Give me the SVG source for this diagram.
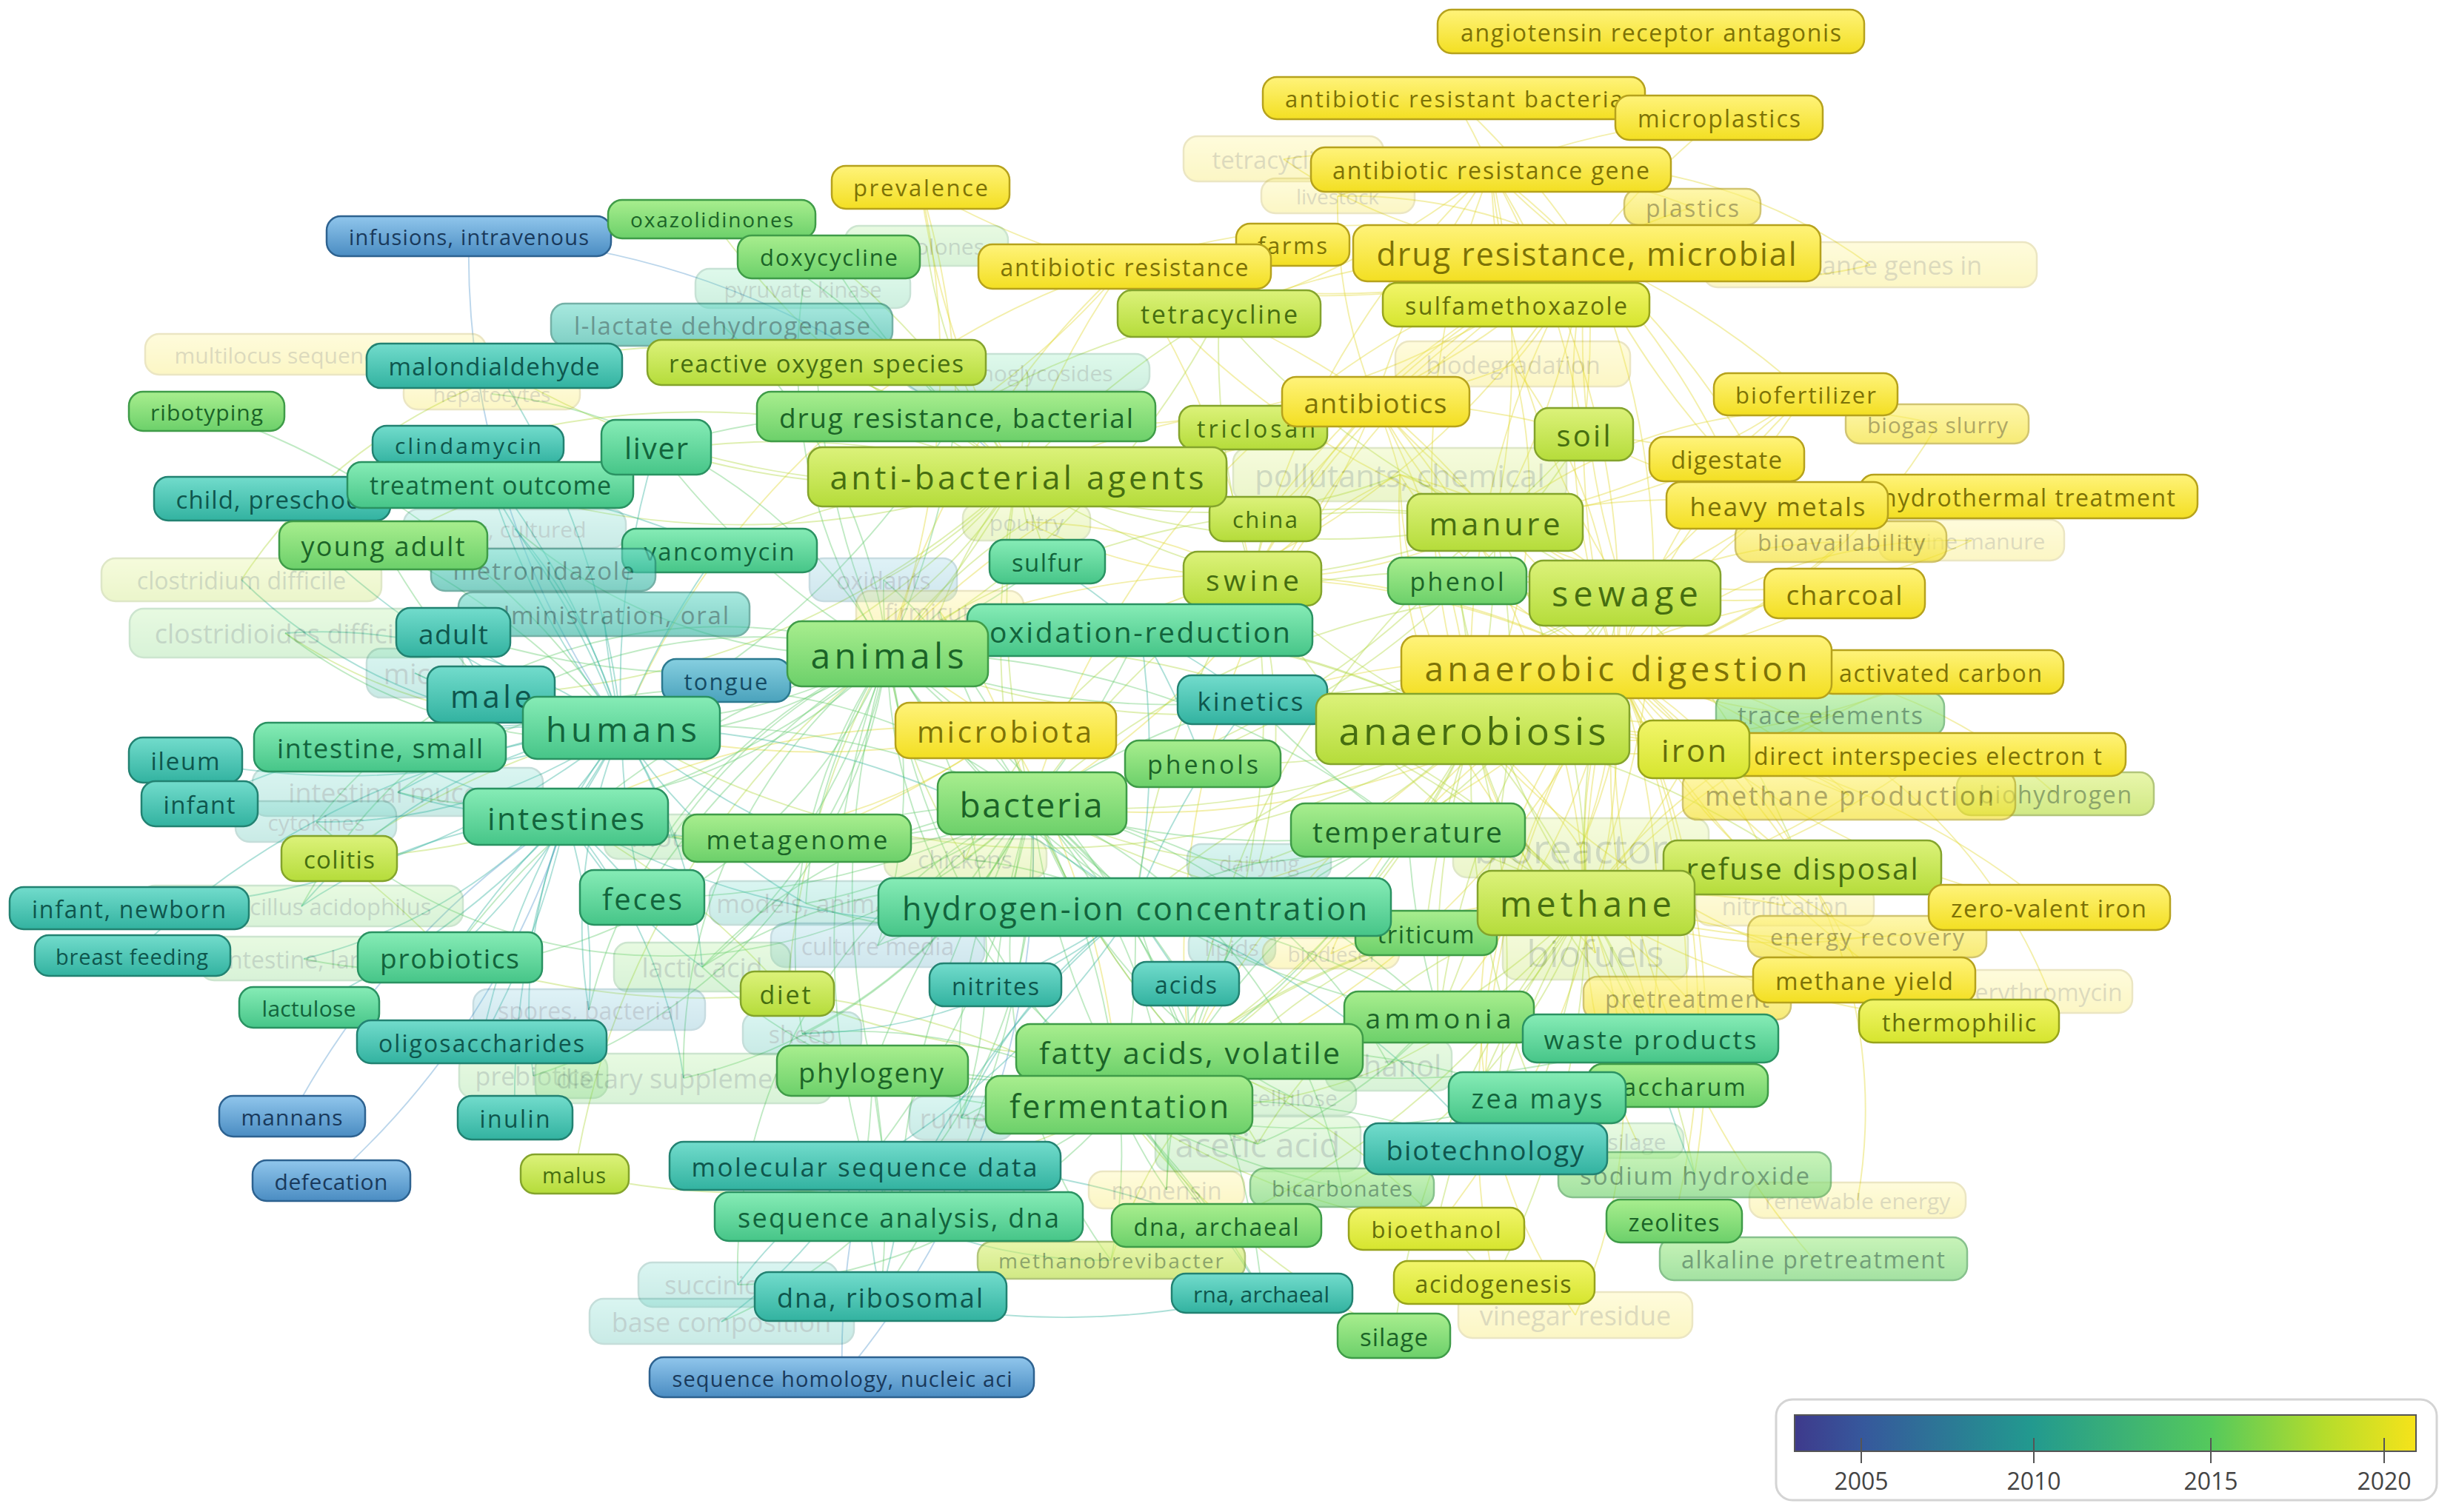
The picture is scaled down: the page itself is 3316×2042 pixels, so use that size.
<svg xmlns="http://www.w3.org/2000/svg" width="3316" height="2042" viewBox="0 0 3316 2042">
<defs>
<linearGradient id="gY" x1="0" y1="0" x2="0" y2="1"><stop offset="0" stop-color="#fff37a"/><stop offset="1" stop-color="#f3df22"/></linearGradient>
<linearGradient id="gYL" x1="0" y1="0" x2="0" y2="1"><stop offset="0" stop-color="#f2f56a"/><stop offset="1" stop-color="#d6e52e"/></linearGradient>
<linearGradient id="gYG" x1="0" y1="0" x2="0" y2="1"><stop offset="0" stop-color="#dcf27a"/><stop offset="1" stop-color="#b5dc3a"/></linearGradient>
<linearGradient id="gG" x1="0" y1="0" x2="0" y2="1"><stop offset="0" stop-color="#a8ee8e"/><stop offset="1" stop-color="#6cd06a"/></linearGradient>
<linearGradient id="gGT" x1="0" y1="0" x2="0" y2="1"><stop offset="0" stop-color="#86ecb6"/><stop offset="1" stop-color="#46c588"/></linearGradient>
<linearGradient id="gT" x1="0" y1="0" x2="0" y2="1"><stop offset="0" stop-color="#72dccc"/><stop offset="1" stop-color="#32b2a0"/></linearGradient>
<linearGradient id="gTB" x1="0" y1="0" x2="0" y2="1"><stop offset="0" stop-color="#86cfe0"/><stop offset="1" stop-color="#4aa2bc"/></linearGradient>
<linearGradient id="gB" x1="0" y1="0" x2="0" y2="1"><stop offset="0" stop-color="#90c6ec"/><stop offset="1" stop-color="#4a8cc2"/></linearGradient>
<linearGradient id="lg" x1="0" y1="0" x2="1" y2="0"><stop offset="0" stop-color="#3e3a8c"/><stop offset="0.11" stop-color="#36589c"/><stop offset="0.38" stop-color="#22998f"/><stop offset="0.67" stop-color="#55c95c"/><stop offset="0.85" stop-color="#b4dc2c"/><stop offset="1" stop-color="#f6e31a"/></linearGradient>
<style>
.nd rect{stroke-width:2.5;rx:19px;ry:19px}
.nd text{font-family:"Open Sans","Noto Sans","Liberation Sans",sans-serif;text-anchor:middle;dominant-baseline:central}
.Y rect{fill:url(#gY);stroke:#b6a21c}.Y text{fill:#7d7206}
.YL rect{fill:url(#gYL);stroke:#98a41c}.YL text{fill:#646e0a}
.YG rect{fill:url(#gYG);stroke:#84a42c}.YG text{fill:#466e10}
.G rect{fill:url(#gG);stroke:#3f9c48}.G text{fill:#1b6427}
.GT rect{fill:url(#gGT);stroke:#2a9262}.GT text{fill:#12643c}
.T rect{fill:url(#gT);stroke:#228272}.T text{fill:#0e564d}
.TB rect{fill:url(#gTB);stroke:#2c7a90}.TB text{fill:#154b64}
.B rect{fill:url(#gB);stroke:#2d6290}.B text{fill:#19395b}
.f{opacity:.26}
.s{opacity:.62}
#edges path{fill:none;stroke-width:1.9;stroke-opacity:.42}
.eY path{stroke:#e2da36}.eYG path{stroke:#b2da44}.eG path{stroke:#68cc72}.eT path{stroke:#3cb6a2}.eB path{stroke:#5c9ed0}
.lgt{font-family:"Open Sans","Noto Sans","Liberation Sans",sans-serif;font-size:32px;fill:#444;text-anchor:middle}
</style>
</defs>
<rect width="3316" height="2042" fill="#ffffff"/>
<g id="edges">
<g class="eY">
<path d="M2182 901A1100 1100 0 0 1 1988 984"/><path d="M2182 901A1100 1100 0 0 0 2141 1219"/><path d="M2182 901A1100 1100 0 0 1 2194 801"/><path d="M2182 901A1100 1100 0 0 0 2018 705"/><path d="M2182 901A1100 1100 0 0 1 2331 620"/><path d="M2182 901A1100 1100 0 0 0 2490 801"/><path d="M2182 901A1100 1100 0 0 1 2400 682"/><path d="M2182 901A1100 1100 0 0 0 2287 1012"/><path d="M2182 901A1100 1100 0 0 1 2620 907"/><path d="M2182 901A1100 1100 0 0 1 2517 1323"/><path d="M2182 901A1100 1100 0 0 0 2645 1379"/><path d="M2182 901A1100 1100 0 0 1 2278 1348"/><path d="M2182 901A1100 1100 0 0 0 2767 1225"/><path d="M2182 901A1100 1100 0 0 1 2438 532"/><path d="M2182 901A1100 1100 0 0 0 2433 1171"/><path d="M2182 901A1100 1100 0 0 1 2228 1402"/><path d="M2182 901A1100 1100 0 0 0 1901 1121"/><path d="M2182 901A1100 1100 0 0 1 1943 1373"/><path d="M2182 901A1100 1100 0 0 0 1967 785"/><path d="M2182 901A1100 1100 0 0 1 2138 586"/><path d="M2182 901A1100 1100 0 0 0 1691 781"/><path d="M2182 901A1100 1100 0 0 1 1939 1659"/><path d="M2182 901A1100 1100 0 0 0 2017 1732"/><path d="M2182 901A1100 1100 0 0 1 2260 1649"/><path d="M2182 901A1100 1100 0 0 0 2265 1466"/><path d="M2182 901A1100 1100 0 0 1 2288 1586"/><path d="M2182 901A1100 1100 0 0 0 2448 1700"/><path d="M2182 901A1100 1100 0 0 1 2142 342"/><path d="M2182 901A1100 1100 0 0 0 2013 229"/><path d="M2182 901A1100 1100 0 0 1 1857 542"/><path d="M2182 901A1100 1100 0 0 0 1606 1420"/><path d="M2182 901A1100 1100 0 0 1 1532 1225"/><path d="M2182 901A1100 1100 0 0 0 1691 946"/><path d="M2182 901A1100 1100 0 0 1 1393 1085"/><path d="M2182 901A1100 1100 0 0 0 1198 883"/><path d="M2182 901A1100 1100 0 0 1 1511 1492"/><path d="M2182 901A1100 1100 0 0 0 2006 1551"/>
<path d="M2142 342A1100 1100 0 0 1 2013 229"/><path d="M2142 342A1100 1100 0 0 0 1857 542"/><path d="M2142 342A1100 1100 0 0 1 2018 705"/><path d="M2142 342A1100 1100 0 0 0 2194 801"/><path d="M2142 342A1100 1100 0 0 1 2138 586"/><path d="M2142 342A1100 1100 0 0 0 1691 781"/><path d="M2142 342A1100 1100 0 0 1 1373 644"/><path d="M2142 342A1100 1100 0 0 0 1646 423"/><path d="M2142 342A1100 1100 0 0 1 1518 360"/><path d="M2142 342A1100 1100 0 0 0 2047 411"/><path d="M2142 342A1100 1100 0 0 1 2438 532"/><path d="M2142 342A1100 1100 0 0 0 1988 984"/><path d="M2142 342A1100 1100 0 0 1 2141 1219"/><path d="M2142 342A1100 1100 0 0 0 1393 1085"/><path d="M2142 342A1100 1100 0 0 1 1198 883"/><path d="M2142 342A1100 1100 0 0 0 839 983"/><path d="M2142 342A1100 1100 0 0 1 1291 562"/><path d="M2142 342A1100 1100 0 0 0 1708 701"/><path d="M2142 342A1100 1100 0 0 1 2400 682"/><path d="M2142 342A1100 1100 0 0 0 2331 620"/><path d="M2142 342A1100 1100 0 0 1 1243 253"/><path d="M2142 342A1100 1100 0 0 0 1963 132"/><path d="M2142 342A1100 1100 0 0 1 2321 159"/><path d="M2142 342A1100 1100 0 0 0 1606 1420"/>
<path d="M2013 229A1100 1100 0 0 1 2018 705"/><path d="M2013 229A1100 1100 0 0 0 2194 801"/><path d="M2013 229A1100 1100 0 0 1 2138 586"/><path d="M2013 229A1100 1100 0 0 0 1857 542"/><path d="M2013 229A1100 1100 0 0 1 1646 423"/><path d="M2013 229A1100 1100 0 0 0 2047 411"/><path d="M2013 229A1100 1100 0 0 1 2331 620"/><path d="M2013 229A1100 1100 0 0 0 1963 132"/><path d="M2013 229A1100 1100 0 0 1 2321 159"/><path d="M2013 229A1100 1100 0 0 0 1691 781"/><path d="M2013 229A1100 1100 0 0 0 1988 984"/>
<path d="M1857 542A1100 1100 0 0 1 2018 705"/><path d="M1857 542A1100 1100 0 0 0 1691 781"/><path d="M1857 542A1100 1100 0 0 1 2138 586"/><path d="M1857 542A1100 1100 0 0 0 1373 644"/><path d="M1857 542A1100 1100 0 0 1 1708 701"/><path d="M1857 542A1100 1100 0 0 0 1646 423"/><path d="M1857 542A1100 1100 0 0 1 1988 984"/><path d="M1857 542A1100 1100 0 0 0 2194 801"/><path d="M1857 542A1100 1100 0 0 1 2141 1219"/><path d="M1857 542A1100 1100 0 0 0 1198 883"/><path d="M1857 542A1100 1100 0 0 1 1393 1085"/>
<path d="M1518 360A1100 1100 0 0 1 1646 423"/><path d="M1518 360A1100 1100 0 0 0 1373 644"/><path d="M1518 360A1100 1100 0 0 1 1291 562"/><path d="M1518 360A1100 1100 0 0 0 1198 883"/><path d="M1518 360A1100 1100 0 0 1 1691 781"/><path d="M1518 360A1100 1100 0 0 0 2018 705"/>
<path d="M1243 253A1100 1100 0 0 1 1291 562"/><path d="M1243 253A1100 1100 0 0 0 1373 644"/><path d="M1243 253A1100 1100 0 0 1 1198 883"/>
<path d="M1358 986A1100 1100 0 0 1 1393 1085"/><path d="M1358 986A1100 1100 0 0 0 1198 883"/><path d="M1358 986A1100 1100 0 0 1 839 983"/><path d="M1358 986A1100 1100 0 0 0 1606 1420"/><path d="M1358 986A1100 1100 0 0 1 1511 1492"/><path d="M1358 986A1100 1100 0 0 0 764 1103"/><path d="M1358 986A1100 1100 0 0 1 1082 1132"/>
<path d="M2620 907A1100 1100 0 0 1 1988 984"/><path d="M2620 907A1100 1100 0 0 0 2141 1219"/><path d="M2287 1012A1100 1100 0 0 1 2141 1219"/><path d="M2287 1012A1100 1100 0 0 0 1988 984"/><path d="M2331 620A1100 1100 0 0 1 2018 705"/><path d="M2331 620A1100 1100 0 0 0 2138 586"/><path d="M2490 801A1100 1100 0 0 1 2194 801"/><path d="M2400 682A1100 1100 0 0 0 2018 705"/><path d="M2400 682A1100 1100 0 0 1 2138 586"/><path d="M2517 1323A1100 1100 0 0 0 2141 1219"/><path d="M2517 1323A1100 1100 0 0 1 1988 984"/><path d="M2278 1348A1100 1100 0 0 0 2141 1219"/><path d="M2767 1225A1100 1100 0 0 1 2141 1219"/><path d="M2767 1225A1100 1100 0 0 0 1988 984"/><path d="M2438 532A1100 1100 0 0 1 2018 705"/><path d="M2438 532A1100 1100 0 0 0 2331 620"/><path d="M2490 801A1100 1100 0 0 0 1988 984"/><path d="M2400 682A1100 1100 0 0 1 2194 801"/><path d="M2438 532A1100 1100 0 0 1 2194 801"/><path d="M2496 1074A1100 1100 0 0 1 2141 1219"/><path d="M2496 1074A1100 1100 0 0 0 1988 984"/><path d="M2602 1020A1100 1100 0 0 1 2141 1219"/><path d="M2645 1379A1100 1100 0 0 1 2141 1219"/>
<path d="M2182 901A700 700 0 0 1 2134 1145"/><path d="M2182 901A700 700 0 0 0 2154 1287"/><path d="M2182 901A700 700 0 0 1 2410 1223"/><path d="M2182 901A700 700 0 0 0 2521 1265"/><path d="M2182 901A700 700 0 0 1 2497 1074"/><path d="M2182 901A700 700 0 0 0 2471 965"/><path d="M2182 901A700 700 0 0 1 2775 1072"/><path d="M2182 901A700 700 0 0 0 2043 492"/><path d="M2182 901A700 700 0 0 1 1890 641"/><path d="M2182 901A700 700 0 0 0 2486 732"/><path d="M2182 901A700 700 0 0 1 2662 730"/><path d="M2182 901A700 700 0 0 0 2616 573"/><path d="M2182 901A700 700 0 0 1 2508 1621"/><path d="M2182 901A700 700 0 0 0 2127 1776"/><path d="M2182 901A700 700 0 0 1 2766 1339"/><path d="M2182 901A700 700 0 0 0 1797 1288"/>
<path d="M2141 1219A700 700 0 0 1 2134 1145"/><path d="M2141 1219A700 700 0 0 0 2154 1287"/><path d="M2141 1219A700 700 0 0 1 2410 1223"/><path d="M2141 1219A700 700 0 0 0 2521 1265"/><path d="M2141 1219A700 700 0 0 1 2471 965"/><path d="M2141 1219A700 700 0 0 0 2210 1541"/><path d="M2141 1219A700 700 0 0 1 2127 1776"/><path d="M2141 1219A700 700 0 0 0 1797 1288"/><path d="M2141 1219A700 700 0 0 1 1890 641"/>
<path d="M1988 984A700 700 0 0 1 2134 1145"/><path d="M1988 984A700 700 0 0 0 2154 1287"/><path d="M1988 984A700 700 0 0 1 1890 641"/><path d="M1988 984A700 700 0 0 0 2043 492"/><path d="M1988 984A700 700 0 0 1 2497 1074"/><path d="M1988 984A700 700 0 0 0 2471 965"/>
<path d="M2142 342A700 700 0 0 1 2285 280"/><path d="M2142 342A700 700 0 0 0 1806 265"/><path d="M2142 342A700 700 0 0 1 1733 215"/><path d="M2142 342A700 700 0 0 0 2525 358"/><path d="M2142 342A700 700 0 0 1 2043 492"/><path d="M2013 229A700 700 0 0 1 2285 280"/><path d="M2013 229A700 700 0 0 0 1806 265"/><path d="M2013 229A700 700 0 0 1 2525 358"/><path d="M2013 229A700 700 0 0 0 1733 215"/><path d="M1857 542A700 700 0 0 1 1806 265"/><path d="M1857 542A700 700 0 0 0 2043 492"/><path d="M1857 542A700 700 0 0 1 1890 641"/>
<path d="M2194 801A700 700 0 0 1 2134 1145"/><path d="M2194 801A700 700 0 0 0 1890 641"/><path d="M2194 801A700 700 0 0 1 2486 732"/><path d="M2018 705A700 700 0 0 0 2662 730"/><path d="M2018 705A700 700 0 0 1 1386 705"/><path d="M2018 705A700 700 0 0 0 1890 641"/><path d="M2018 705A700 700 0 0 1 2616 573"/><path d="M1691 781A700 700 0 0 0 1386 705"/><path d="M1691 781A700 700 0 0 1 1890 641"/><path d="M1358 986A700 700 0 0 0 1269 826"/><path d="M1358 986A700 700 0 0 1 908 1130"/>
</g>
<g class="eYG">
<path d="M1988 984A1100 1100 0 0 1 2141 1219"/><path d="M1988 984A1100 1100 0 0 0 2194 801"/><path d="M1988 984A1100 1100 0 0 1 1901 1121"/><path d="M1988 984A1100 1100 0 0 0 1943 1373"/><path d="M1988 984A1100 1100 0 0 1 1606 1420"/><path d="M1988 984A1100 1100 0 0 0 1532 1225"/><path d="M1988 984A1100 1100 0 0 1 1393 1085"/><path d="M1988 984A1100 1100 0 0 0 1198 883"/><path d="M1988 984A1100 1100 0 0 1 1691 946"/><path d="M1988 984A1100 1100 0 0 0 1967 785"/><path d="M1988 984A1100 1100 0 0 1 1624 1031"/><path d="M1988 984A1100 1100 0 0 0 1539 850"/><path d="M1988 984A1100 1100 0 0 1 1511 1492"/><path d="M1988 984A1100 1100 0 0 0 2228 1402"/><path d="M1988 984A1100 1100 0 0 1 2006 1551"/><path d="M1988 984A1100 1100 0 0 0 2075 1482"/><path d="M1988 984A1100 1100 0 0 1 2433 1171"/><path d="M1988 984A1100 1100 0 0 0 1925 1260"/><path d="M1988 984A1100 1100 0 0 1 1691 781"/><path d="M1988 984A1100 1100 0 0 0 2018 705"/><path d="M1988 984A1100 1100 0 0 1 839 983"/>
<path d="M2141 1219A1100 1100 0 0 1 2194 801"/><path d="M2141 1219A1100 1100 0 0 0 1901 1121"/><path d="M2141 1219A1100 1100 0 0 1 1943 1373"/><path d="M2141 1219A1100 1100 0 0 0 1606 1420"/><path d="M2141 1219A1100 1100 0 0 1 1532 1225"/><path d="M2141 1219A1100 1100 0 0 0 1511 1492"/><path d="M2141 1219A1100 1100 0 0 1 1393 1085"/><path d="M2141 1219A1100 1100 0 0 0 1198 883"/><path d="M2141 1219A1100 1100 0 0 1 2228 1402"/><path d="M2141 1219A1100 1100 0 0 0 2006 1551"/><path d="M2141 1219A1100 1100 0 0 1 2075 1482"/><path d="M2141 1219A1100 1100 0 0 0 2433 1171"/><path d="M2141 1219A1100 1100 0 0 1 1925 1260"/><path d="M2141 1219A1100 1100 0 0 0 2265 1466"/><path d="M2141 1219A1100 1100 0 0 1 2288 1586"/><path d="M2141 1219A1100 1100 0 0 0 1939 1659"/><path d="M2141 1219A1100 1100 0 0 1 2017 1732"/><path d="M2141 1219A1100 1100 0 0 0 1882 1804"/><path d="M2141 1219A1100 1100 0 0 1 1642 1655"/><path d="M2141 1219A1100 1100 0 0 0 2018 705"/><path d="M2141 1219A1100 1100 0 0 1 1691 781"/><path d="M2141 1219A1100 1100 0 0 0 1691 946"/><path d="M2141 1219A1100 1100 0 0 1 1967 785"/>
<path d="M2194 801A1100 1100 0 0 1 2018 705"/><path d="M2194 801A1100 1100 0 0 0 1967 785"/><path d="M2194 801A1100 1100 0 0 1 1691 946"/><path d="M2194 801A1100 1100 0 0 0 1539 850"/><path d="M2194 801A1100 1100 0 0 1 1901 1121"/><path d="M2194 801A1100 1100 0 0 0 1393 1085"/><path d="M2194 801A1100 1100 0 0 1 2433 1171"/><path d="M2194 801A1100 1100 0 0 0 1943 1373"/><path d="M2194 801A1100 1100 0 0 1 1198 883"/>
<path d="M2018 705A1100 1100 0 0 1 1691 781"/><path d="M2018 705A1100 1100 0 0 0 1198 883"/><path d="M2018 705A1100 1100 0 0 1 1393 1085"/><path d="M2018 705A1100 1100 0 0 0 2138 586"/><path d="M2018 705A1100 1100 0 0 1 1646 423"/><path d="M2018 705A1100 1100 0 0 0 1708 701"/><path d="M2018 705A1100 1100 0 0 1 1943 1373"/><path d="M2018 705A1100 1100 0 0 0 1606 1420"/><path d="M2018 705A1100 1100 0 0 1 1373 644"/>
<path d="M1373 644A1100 1100 0 0 1 1198 883"/><path d="M1373 644A1100 1100 0 0 0 1393 1085"/><path d="M1373 644A1100 1100 0 0 1 839 983"/><path d="M1373 644A1100 1100 0 0 0 1291 562"/><path d="M1373 644A1100 1100 0 0 1 1646 423"/><path d="M1373 644A1100 1100 0 0 0 1691 781"/><path d="M1373 644A1100 1100 0 0 1 886 604"/><path d="M1373 644A1100 1100 0 0 0 971 743"/><path d="M1373 644A1100 1100 0 0 1 1414 758"/><path d="M1373 644A1100 1100 0 0 0 1358 986"/><path d="M1373 644A1100 1100 0 0 1 663 938"/><path d="M1373 644A1100 1100 0 0 0 632 601"/><path d="M1373 644A1100 1100 0 0 1 662 655"/><path d="M1373 644A1100 1100 0 0 0 1102 489"/><path d="M1373 644A1100 1100 0 0 1 961 296"/><path d="M1373 644A1100 1100 0 0 0 1119 347"/><path d="M1373 644A1100 1100 0 0 1 667 494"/><path d="M1373 644A1100 1100 0 0 0 517 736"/>
<path d="M1691 781A1100 1100 0 0 1 1198 883"/><path d="M1691 781A1100 1100 0 0 0 1393 1085"/><path d="M1691 781A1100 1100 0 0 1 1606 1420"/><path d="M1691 781A1100 1100 0 0 0 1708 701"/><path d="M1691 781A1100 1100 0 0 1 1646 423"/><path d="M1691 781A1100 1100 0 0 0 1532 1225"/>
<path d="M1646 423A1100 1100 0 0 1 1198 883"/><path d="M1646 423A1100 1100 0 0 0 1291 562"/><path d="M2138 586A1100 1100 0 0 1 1393 1085"/><path d="M1939 1659A1100 1100 0 0 1 1511 1492"/><path d="M2017 1732A1100 1100 0 0 0 1606 1420"/><path d="M1882 1804A1100 1100 0 0 1 1511 1492"/>
<path d="M458 1159A1100 1100 0 0 1 839 983"/><path d="M458 1159A1100 1100 0 0 0 764 1103"/><path d="M458 1159A1100 1100 0 0 1 607 1293"/><path d="M1063 1342A1100 1100 0 0 1 1198 883"/><path d="M1063 1342A1100 1100 0 0 0 1606 1420"/><path d="M1063 1342A1100 1100 0 0 1 1511 1492"/><path d="M1063 1342A1100 1100 0 0 0 764 1103"/><path d="M1063 1342A1100 1100 0 0 1 607 1293"/><path d="M776 1585A1100 1100 0 0 1 1198 883"/><path d="M776 1585A1100 1100 0 0 0 1511 1492"/>
<path d="M1373 644A700 700 0 0 1 1386 705"/><path d="M1373 644A700 700 0 0 0 1269 826"/><path d="M1373 644A700 700 0 0 1 1193 783"/><path d="M1373 644A700 700 0 0 0 1387 503"/><path d="M1373 644A700 700 0 0 1 1251 332"/><path d="M1373 644A700 700 0 0 0 326 783"/><path d="M1373 644A700 700 0 0 1 385 855"/><path d="M1373 644A700 700 0 0 0 1890 641"/><path d="M1198 883A700 700 0 0 1 1386 705"/><path d="M1198 883A700 700 0 0 0 1303 1160"/><path d="M1393 1085A700 700 0 0 1 1303 1160"/><path d="M1393 1085A700 700 0 0 0 1700 1165"/><path d="M1511 1492A700 700 0 0 1 1698 1545"/><path d="M1511 1492A700 700 0 0 0 1875 1438"/><path d="M1606 1420A700 700 0 0 1 1698 1545"/><path d="M1606 1420A700 700 0 0 0 1745 1482"/><path d="M1988 984A700 700 0 0 1 1700 1165"/><path d="M2141 1219A700 700 0 0 0 1698 1545"/><path d="M2141 1219A700 700 0 0 1 1875 1438"/><path d="M2141 1219A700 700 0 0 0 1500 1702"/><path d="M2141 1219A700 700 0 0 1 1812 1604"/><path d="M1691 781A700 700 0 0 0 1303 1160"/><path d="M1691 781A700 700 0 0 1 1700 1165"/>
</g>
<g class="eG">
<path d="M1198 883A1100 1100 0 0 1 1393 1085"/><path d="M1198 883A1100 1100 0 0 0 839 983"/><path d="M1198 883A1100 1100 0 0 1 764 1103"/><path d="M1198 883A1100 1100 0 0 0 1511 1492"/><path d="M1198 883A1100 1100 0 0 1 1606 1420"/><path d="M1198 883A1100 1100 0 0 0 1532 1225"/><path d="M1198 883A1100 1100 0 0 1 1082 1132"/><path d="M1198 883A1100 1100 0 0 0 867 1212"/><path d="M1198 883A1100 1100 0 0 1 663 938"/><path d="M1198 883A1100 1100 0 0 0 1178 1446"/><path d="M1198 883A1100 1100 0 0 1 886 604"/><path d="M1198 883A1100 1100 0 0 0 1414 758"/><path d="M1198 883A1100 1100 0 0 1 1539 850"/><path d="M1198 883A1100 1100 0 0 0 1691 946"/><path d="M1198 883A1100 1100 0 0 1 980 919"/><path d="M1198 883A1100 1100 0 0 0 1168 1574"/><path d="M1198 883A1100 1100 0 0 1 612 853"/><path d="M1198 883A1100 1100 0 0 0 607 1293"/><path d="M1198 883A1100 1100 0 0 1 1102 489"/><path d="M1198 883A1100 1100 0 0 0 1291 562"/><path d="M1198 883A1100 1100 0 0 1 1901 1121"/><path d="M1198 883A1100 1100 0 0 0 1943 1373"/>
<path d="M1393 1085A1100 1100 0 0 1 1511 1492"/><path d="M1393 1085A1100 1100 0 0 0 1606 1420"/><path d="M1393 1085A1100 1100 0 0 1 1532 1225"/><path d="M1393 1085A1100 1100 0 0 0 1178 1446"/><path d="M1393 1085A1100 1100 0 0 1 1168 1574"/><path d="M1393 1085A1100 1100 0 0 0 1213 1643"/><path d="M1393 1085A1100 1100 0 0 1 1189 1751"/><path d="M1393 1085A1100 1100 0 0 0 839 983"/><path d="M1393 1085A1100 1100 0 0 1 764 1103"/><path d="M1393 1085A1100 1100 0 0 0 1082 1132"/><path d="M1393 1085A1100 1100 0 0 1 867 1212"/><path d="M1393 1085A1100 1100 0 0 0 1901 1121"/><path d="M1393 1085A1100 1100 0 0 1 1943 1373"/><path d="M1393 1085A1100 1100 0 0 0 1344 1330"/><path d="M1393 1085A1100 1100 0 0 1 1601 1328"/><path d="M1393 1085A1100 1100 0 0 0 1539 850"/><path d="M1393 1085A1100 1100 0 0 1 1691 946"/><path d="M1393 1085A1100 1100 0 0 0 1642 1655"/><path d="M1393 1085A1100 1100 0 0 1 1704 1746"/>
<path d="M1511 1492A1100 1100 0 0 1 1606 1420"/><path d="M1511 1492A1100 1100 0 0 0 1532 1225"/><path d="M1511 1492A1100 1100 0 0 1 1943 1373"/><path d="M1511 1492A1100 1100 0 0 0 1901 1121"/><path d="M1511 1492A1100 1100 0 0 1 2006 1551"/><path d="M1511 1492A1100 1100 0 0 0 2075 1482"/><path d="M1511 1492A1100 1100 0 0 1 1642 1655"/><path d="M1511 1492A1100 1100 0 0 0 1178 1446"/><path d="M1511 1492A1100 1100 0 0 1 1213 1643"/><path d="M1511 1492A1100 1100 0 0 0 1812 1604"/><path d="M1511 1492A1100 1100 0 0 1 1704 1746"/>
<path d="M1606 1420A1100 1100 0 0 1 1532 1225"/><path d="M1606 1420A1100 1100 0 0 0 1943 1373"/><path d="M1606 1420A1100 1100 0 0 1 1901 1121"/><path d="M1606 1420A1100 1100 0 0 0 1601 1328"/><path d="M1606 1420A1100 1100 0 0 1 2075 1482"/><path d="M1606 1420A1100 1100 0 0 0 2228 1402"/><path d="M1901 1121A1100 1100 0 0 1 1532 1225"/><path d="M1901 1121A1100 1100 0 0 0 1943 1373"/><path d="M1901 1121A1100 1100 0 0 1 1691 946"/><path d="M1943 1373A1100 1100 0 0 0 1532 1225"/><path d="M1943 1373A1100 1100 0 0 1 2228 1402"/>
<path d="M1178 1446A1100 1100 0 0 1 1168 1574"/><path d="M1178 1446A1100 1100 0 0 0 1213 1643"/><path d="M1178 1446A1100 1100 0 0 1 1189 1751"/><path d="M1291 562A1100 1100 0 0 1 839 983"/><path d="M1291 562A1100 1100 0 0 0 886 604"/><path d="M1291 562A1100 1100 0 0 1 1119 347"/><path d="M1291 562A1100 1100 0 0 0 961 296"/><path d="M279 555A1100 1100 0 0 1 839 983"/><path d="M517 736A1100 1100 0 0 1 839 983"/><path d="M517 736A1100 1100 0 0 0 663 938"/>
<path d="M1198 883A700 700 0 0 1 560 909"/><path d="M1198 883A700 700 0 0 0 908 1130"/><path d="M1198 883A700 700 0 0 1 948 1306"/><path d="M1198 883A700 700 0 0 0 1083 1396"/><path d="M1198 883A700 700 0 0 1 1298 1510"/><path d="M1198 883A700 700 0 0 0 1088 1220"/><path d="M1198 883A700 700 0 0 1 1185 1277"/><path d="M1198 883A700 700 0 0 0 923 1456"/><path d="M1198 883A700 700 0 0 1 720 1453"/><path d="M1198 883A700 700 0 0 0 427 1110"/><path d="M1198 883A700 700 0 0 1 537 1070"/><path d="M1198 883A700 700 0 0 0 795 1364"/><path d="M1198 883A700 700 0 0 1 1193 783"/><path d="M1198 883A700 700 0 0 0 1269 826"/><path d="M1198 883A700 700 0 0 1 695 714"/><path d="M1198 883A700 700 0 0 0 664 532"/><path d="M1198 883A700 700 0 0 1 1084 390"/><path d="M1198 883A700 700 0 0 0 975 439"/><path d="M1198 883A700 700 0 0 1 385 855"/><path d="M1198 883A700 700 0 0 0 407 1224"/><path d="M1198 883A700 700 0 0 1 410 1295"/><path d="M1198 883A700 700 0 0 0 1698 1545"/>
<path d="M1393 1085A700 700 0 0 1 908 1130"/><path d="M1393 1085A700 700 0 0 0 948 1306"/><path d="M1393 1085A700 700 0 0 1 1083 1396"/><path d="M1393 1085A700 700 0 0 0 1298 1510"/><path d="M1393 1085A700 700 0 0 1 1088 1220"/><path d="M1393 1085A700 700 0 0 0 1185 1277"/><path d="M1393 1085A700 700 0 0 1 923 1456"/><path d="M1393 1085A700 700 0 0 0 1663 1279"/><path d="M1393 1085A700 700 0 0 1 1575 1607"/><path d="M1393 1085A700 700 0 0 0 996 1735"/><path d="M1393 1085A700 700 0 0 1 974 1785"/><path d="M1393 1085A700 700 0 0 0 1500 1702"/><path d="M1393 1085A700 700 0 0 1 1812 1604"/><path d="M1393 1085A700 700 0 0 0 1745 1482"/><path d="M1393 1085A700 700 0 0 1 1875 1438"/><path d="M1393 1085A700 700 0 0 0 1193 783"/><path d="M1393 1085A700 700 0 0 1 1269 826"/><path d="M1393 1085A700 700 0 0 0 537 1070"/><path d="M1393 1085A700 700 0 0 1 427 1110"/>
<path d="M1511 1492A700 700 0 0 1 1298 1510"/><path d="M1511 1492A700 700 0 0 0 1083 1396"/><path d="M1511 1492A700 700 0 0 1 948 1306"/><path d="M1511 1492A700 700 0 0 0 1575 1607"/><path d="M1511 1492A700 700 0 0 1 996 1735"/><path d="M1511 1492A700 700 0 0 0 1663 1279"/><path d="M1511 1492A700 700 0 0 1 1500 1702"/><path d="M1606 1420A700 700 0 0 0 1298 1510"/><path d="M1606 1420A700 700 0 0 1 1083 1396"/><path d="M1606 1420A700 700 0 0 0 1575 1607"/><path d="M1606 1420A700 700 0 0 1 1663 1279"/><path d="M1532 1225A700 700 0 0 0 1185 1277"/><path d="M1532 1225A700 700 0 0 1 1088 1220"/><path d="M1532 1225A700 700 0 0 0 948 1306"/><path d="M1532 1225A700 700 0 0 1 1700 1165"/><path d="M1532 1225A700 700 0 0 0 1303 1160"/><path d="M1901 1121A700 700 0 0 1 1700 1165"/><path d="M1901 1121A700 700 0 0 0 1663 1279"/><path d="M1943 1373A700 700 0 0 1 1698 1545"/><path d="M1943 1373A700 700 0 0 0 1875 1438"/>
</g>
<g class="eT">
<path d="M839 983A1100 1100 0 0 1 764 1103"/><path d="M839 983A1100 1100 0 0 0 663 938"/><path d="M839 983A1100 1100 0 0 1 612 853"/><path d="M839 983A1100 1100 0 0 0 867 1212"/><path d="M839 983A1100 1100 0 0 1 607 1293"/><path d="M839 983A1100 1100 0 0 0 513 1009"/><path d="M839 983A1100 1100 0 0 1 662 655"/><path d="M839 983A1100 1100 0 0 0 632 601"/><path d="M839 983A1100 1100 0 0 1 971 743"/><path d="M839 983A1100 1100 0 0 0 733 769"/><path d="M839 983A1100 1100 0 0 1 815 829"/><path d="M839 983A1100 1100 0 0 0 1082 1132"/><path d="M839 983A1100 1100 0 0 1 1532 1225"/><path d="M839 983A1100 1100 0 0 0 650 1407"/><path d="M839 983A1100 1100 0 0 1 886 604"/><path d="M839 983A1100 1100 0 0 0 980 919"/><path d="M839 983A1100 1100 0 0 1 250 1026"/><path d="M839 983A1100 1100 0 0 0 269 1085"/><path d="M839 983A1100 1100 0 0 1 174 1226"/><path d="M839 983A1100 1100 0 0 0 179 1290"/><path d="M839 983A1100 1100 0 0 1 367 673"/><path d="M839 983A1100 1100 0 0 0 667 494"/>
<path d="M764 1103A1100 1100 0 0 1 867 1212"/><path d="M764 1103A1100 1100 0 0 0 607 1293"/><path d="M764 1103A1100 1100 0 0 1 513 1009"/><path d="M764 1103A1100 1100 0 0 0 1082 1132"/><path d="M764 1103A1100 1100 0 0 1 650 1407"/><path d="M764 1103A1100 1100 0 0 0 1532 1225"/><path d="M764 1103A1100 1100 0 0 1 417 1360"/><path d="M764 1103A1100 1100 0 0 0 695 1509"/>
<path d="M1532 1225A1100 1100 0 0 1 1691 946"/><path d="M1532 1225A1100 1100 0 0 0 1539 850"/><path d="M1532 1225A1100 1100 0 0 1 1344 1330"/><path d="M1532 1225A1100 1100 0 0 0 1601 1328"/><path d="M1532 1225A1100 1100 0 0 1 1168 1574"/><path d="M1532 1225A1100 1100 0 0 0 1213 1643"/><path d="M1532 1225A1100 1100 0 0 1 2006 1551"/>
<path d="M1168 1574A1100 1100 0 0 1 1213 1643"/><path d="M1168 1574A1100 1100 0 0 0 1189 1751"/><path d="M1168 1574A1100 1100 0 0 1 1642 1655"/><path d="M1213 1643A1100 1100 0 0 1 1189 1751"/><path d="M1189 1751A1100 1100 0 0 0 1704 1746"/><path d="M1642 1655A1100 1100 0 0 1 1704 1746"/>
<path d="M1539 850A1100 1100 0 0 1 1691 946"/><path d="M1539 850A1100 1100 0 0 0 1414 758"/><path d="M1539 850A1100 1100 0 0 1 1624 1031"/><path d="M2006 1551A1100 1100 0 0 1 2075 1482"/><path d="M2006 1551A1100 1100 0 0 0 2228 1402"/><path d="M2228 1402A1100 1100 0 0 1 2265 1466"/><path d="M2228 1402A1100 1100 0 0 0 2288 1586"/>
<path d="M662 655A1100 1100 0 0 1 971 743"/><path d="M662 655A1100 1100 0 0 0 733 769"/><path d="M662 655A1100 1100 0 0 1 632 601"/><path d="M663 938A1100 1100 0 0 1 612 853"/>
<path d="M839 983A700 700 0 0 1 560 909"/><path d="M839 983A700 700 0 0 0 537 1070"/><path d="M839 983A700 700 0 0 1 427 1110"/><path d="M839 983A700 700 0 0 0 385 855"/><path d="M839 983A700 700 0 0 1 326 783"/><path d="M839 983A700 700 0 0 0 695 714"/><path d="M839 983A700 700 0 0 1 908 1130"/><path d="M839 983A700 700 0 0 0 407 1224"/><path d="M839 983A700 700 0 0 1 410 1295"/><path d="M839 983A700 700 0 0 0 795 1364"/><path d="M839 983A700 700 0 0 1 948 1306"/><path d="M839 983A700 700 0 0 0 1088 1220"/><path d="M764 1103A700 700 0 0 1 908 1130"/><path d="M764 1103A700 700 0 0 0 948 1306"/><path d="M764 1103A700 700 0 0 1 795 1364"/><path d="M764 1103A700 700 0 0 0 720 1453"/><path d="M764 1103A700 700 0 0 1 923 1456"/><path d="M764 1103A700 700 0 0 0 407 1224"/><path d="M764 1103A700 700 0 0 1 537 1070"/><path d="M1168 1574A700 700 0 0 0 996 1735"/><path d="M1168 1574A700 700 0 0 1 974 1785"/><path d="M1213 1643A700 700 0 0 0 1500 1702"/><path d="M1532 1225A700 700 0 0 1 1083 1396"/><path d="M1532 1225A700 700 0 0 0 1298 1510"/>
</g>
<g class="eB">
<path d="M633 319A1100 1100 0 0 1 1373 644"/><path d="M633 319A1100 1100 0 0 0 839 983"/><path d="M394 1507A1100 1100 0 0 1 764 1103"/><path d="M447 1594A1100 1100 0 0 0 764 1103"/><path d="M1137 1860A1100 1100 0 0 1 1168 1574"/><path d="M1137 1860A1100 1100 0 0 0 1393 1085"/>
</g>
</g>
<g id="nodes">
<g id="n-tetracyclines" class="nd Y f"><rect x="1598" y="184" width="270" height="61"/><text x="1733" y="215" font-size="33">tetracyclines</text></g>
<g id="n-livestock" class="nd Y f"><rect x="1703" y="241" width="207" height="47"/><text x="1806" y="265" font-size="28">livestock</text></g>
<g id="n-resistance-genes" class="nd Y f"><rect x="2300" y="327" width="450" height="61"/><text x="2525" y="358" font-size="34">resistance genes in</text></g>
<g id="n-quinolones" class="nd G f"><rect x="1141" y="305" width="220" height="54"/><text x="1251" y="332" font-size="30">quinolones</text></g>
<g id="n-pyruvate-kinase" class="nd GT f"><rect x="939" y="363" width="290" height="53"/><text x="1084" y="390" font-size="29">pyruvate kinase</text></g>
<g id="n-multilocus" class="nd Y f"><rect x="196" y="451" width="460" height="55"/><text x="426" y="479" font-size="30">multilocus sequence typing</text></g>
<g id="n-hepatocytes" class="nd Y f"><rect x="545" y="510" width="238" height="43"/><text x="664" y="532" font-size="28">hepatocytes</text></g>
<g id="n-aminoglycosides" class="nd GT f"><rect x="1221" y="478" width="331" height="49"/><text x="1387" y="503" font-size="30">aminoglycosides</text></g>
<g id="n-biodegradation" class="nd Y f"><rect x="1884" y="461" width="317" height="61"/><text x="2043" y="492" font-size="33">biodegradation</text></g>
<g id="n-pollutants" class="nd YG f"><rect x="1665" y="605" width="450" height="72"/><text x="1890" y="641" font-size="42">pollutants, chemical</text></g>
<g id="n-poultry" class="nd YG f"><rect x="1300" y="680" width="172" height="50"/><text x="1386" y="705" font-size="30">poultry</text></g>
<g id="n-swine-manure" class="nd Y f"><rect x="2537" y="702" width="250" height="55"/><text x="2662" y="730" font-size="30">swine manure</text></g>
<g id="n-cells-cultured" class="nd T f"><rect x="545" y="688" width="300" height="52"/><text x="695" y="714" font-size="30">cells, cultured</text></g>
<g id="n-clostridium" class="nd YG f"><rect x="137" y="754" width="378" height="58"/><text x="326" y="783" font-size="32">clostridium difficile</text></g>
<g id="n-oxidants" class="nd TB f"><rect x="1093" y="754" width="199" height="58"/><text x="1193" y="783" font-size="32">oxidants</text></g>
<g id="n-firmicutes" class="nd Y f"><rect x="1156" y="798" width="226" height="55"/><text x="1269" y="826" font-size="32">firmicutes</text></g>
<g id="n-clostridioides" class="nd G f"><rect x="175" y="822" width="420" height="66"/><text x="385" y="855" font-size="36">clostridioides difficile</text></g>
<g id="n-mice" class="nd T f"><rect x="495" y="876" width="130" height="66"/><text x="560" y="909" font-size="38">mice</text></g>
<g id="n-intestinal-mucosa" class="nd T f"><rect x="341" y="1037" width="392" height="65"/><text x="537" y="1070" font-size="36">intestinal mucosa</text></g>
<g id="n-cytokines" class="nd T f"><rect x="318" y="1082" width="217" height="55"/><text x="427" y="1110" font-size="30">cytokines</text></g>
<g id="n-mouth" class="nd G f"><rect x="816" y="1100" width="185" height="60"/><text x="908" y="1130" font-size="36">mouth</text></g>
<g id="n-bioreactors" class="nd YG f"><rect x="1962" y="1105" width="345" height="80"/><text x="2134" y="1145" font-size="54">bioreactors</text></g>
<g id="n-chickens" class="nd YG f"><rect x="1194" y="1133" width="219" height="53"/><text x="1303" y="1160" font-size="32">chickens</text></g>
<g id="n-dairying" class="nd T f"><rect x="1603" y="1140" width="194" height="49"/><text x="1700" y="1165" font-size="29">dairying</text></g>
<g id="n-lactobacillus" class="nd G f"><rect x="190" y="1196" width="435" height="55"/><text x="407" y="1224" font-size="31">lactobacillus acidophilus</text></g>
<g id="n-models-animal" class="nd T f"><rect x="958" y="1190" width="260" height="59"/><text x="1088" y="1220" font-size="34">models, animal</text></g>
<g id="n-nitrification" class="nd Y f"><rect x="2290" y="1195" width="240" height="55"/><text x="2410" y="1223" font-size="32">nitrification</text></g>
<g id="n-intestine-large" class="nd G f"><rect x="270" y="1265" width="280" height="59"/><text x="410" y="1295" font-size="32">intestine, large</text></g>
<g id="n-culture-media" class="nd TB f"><rect x="1041" y="1247" width="288" height="59"/><text x="1185" y="1277" font-size="32">culture media</text></g>
<g id="n-lipids" class="nd T f"><rect x="1605" y="1254" width="117" height="49"/><text x="1663" y="1279" font-size="30">lipids</text></g>
<g id="n-biodiesel" class="nd Y f"><rect x="1705" y="1267" width="184" height="41"/><text x="1797" y="1288" font-size="28">biodiesel</text></g>
<g id="n-biofuels" class="nd YG f"><rect x="2029" y="1250" width="250" height="73"/><text x="2154" y="1287" font-size="50">biofuels</text></g>
<g id="n-lactic-acid" class="nd G f"><rect x="829" y="1273" width="238" height="66"/><text x="948" y="1306" font-size="36">lactic acid</text></g>
<g id="n-erythromycin" class="nd Y f"><rect x="2653" y="1310" width="226" height="58"/><text x="2766" y="1339" font-size="32">erythromycin</text></g>
<g id="n-spores" class="nd TB f"><rect x="639" y="1336" width="313" height="55"/><text x="795" y="1364" font-size="32">spores, bacterial</text></g>
<g id="n-sheep" class="nd T f"><rect x="1003" y="1367" width="160" height="57"/><text x="1083" y="1396" font-size="32">sheep</text></g>
<g id="n-ethanol" class="nd G f"><rect x="1790" y="1404" width="170" height="69"/><text x="1875" y="1438" font-size="40">ethanol</text></g>
<g id="n-prebiotics" class="nd G f"><rect x="620" y="1423" width="200" height="60"/><text x="720" y="1453" font-size="34">prebiotics</text></g>
<g id="n-dietary" class="nd G f"><rect x="723" y="1423" width="400" height="67"/><text x="923" y="1456" font-size="36">dietary supplements</text></g>
<g id="n-rumen" class="nd T f"><rect x="1228" y="1481" width="140" height="58"/><text x="1298" y="1510" font-size="36">rumen</text></g>
<g id="n-cellulose" class="nd G f"><rect x="1660" y="1457" width="171" height="49"/><text x="1745" y="1482" font-size="30">cellulose</text></g>
<g id="n-acetic-acid" class="nd G f"><rect x="1560" y="1508" width="277" height="74"/><text x="1698" y="1545" font-size="46">acetic acid</text></g>
<g id="n-silage-f" class="nd G f"><rect x="2147" y="1517" width="126" height="47"/><text x="2210" y="1541" font-size="30">silage</text></g>
<g id="n-monensin" class="nd Y f"><rect x="1470" y="1582" width="210" height="50"/><text x="1575" y="1607" font-size="32">monensin</text></g>
<g id="n-renewable" class="nd Y f"><rect x="2362" y="1597" width="292" height="48"/><text x="2508" y="1621" font-size="30">renewable energy</text></g>
<g id="n-vinegar" class="nd Y f"><rect x="1969" y="1745" width="316" height="62"/><text x="2127" y="1776" font-size="36">vinegar residue</text></g>
<g id="n-succinic" class="nd T f"><rect x="862" y="1705" width="269" height="60"/><text x="996" y="1735" font-size="34">succinic acid</text></g>
<g id="n-base-comp" class="nd T f"><rect x="796" y="1754" width="357" height="61"/><text x="974" y="1785" font-size="36">base composition</text></g>

<g id="n-plastics" class="nd Y s"><rect x="2193" y="255" width="184" height="49"/><text x="2285" y="280" font-size="32" textLength="126">plastics</text></g>
<g id="n-l-lactate" class="nd T s"><rect x="744" y="410" width="461" height="57"/><text x="975" y="439" font-size="33" textLength="400">l-lactate dehydrogenase</text></g>
<g id="n-biogas-slurry" class="nd Y s"><rect x="2492" y="546" width="247" height="53"/><text x="2616" y="573" font-size="30" textLength="190">biogas slurry</text></g>
<g id="n-bioavailability" class="nd Y s"><rect x="2343" y="704" width="285" height="55"/><text x="2486" y="732" font-size="31" textLength="226">bioavailability</text></g>
<g id="n-administration" class="nd T s"><rect x="619" y="800" width="393" height="59"/><text x="816" y="830" font-size="33" textLength="336">administration, oral</text></g>
<g id="n-trace" class="nd G s"><rect x="2317" y="935" width="308" height="59"/><text x="2471" y="965" font-size="33" textLength="250">trace elements</text></g>
<g id="n-biohydrogen" class="nd YG s"><rect x="2642" y="1043" width="266" height="58"/><text x="2775" y="1072" font-size="32" textLength="206">biohydrogen</text></g>
<g id="n-methane-production" class="nd Y s"><rect x="2272" y="1041" width="449" height="66"/><text x="2497" y="1074" font-size="36" textLength="390">methane production</text></g>
<g id="n-energy-recovery" class="nd Y s"><rect x="2360" y="1237" width="322" height="56"/><text x="2521" y="1265" font-size="31" textLength="262">energy recovery</text></g>
<g id="n-pretreatment" class="nd Y s"><rect x="2138" y="1319" width="280" height="58"/><text x="2278" y="1348" font-size="32" textLength="222">pretreatment</text></g>
<g id="n-sodium-hydroxide" class="nd G s"><rect x="2104" y="1556" width="368" height="61"/><text x="2288" y="1587" font-size="33" textLength="310">sodium hydroxide</text></g>
<g id="n-bicarbonates" class="nd G s"><rect x="1688" y="1578" width="248" height="52"/><text x="1812" y="1604" font-size="29" textLength="190">bicarbonates</text></g>
<g id="n-methanobrevibacter" class="nd YG s"><rect x="1320" y="1677" width="361" height="50"/><text x="1500" y="1702" font-size="28" textLength="304">methanobrevibacter</text></g>
<g id="n-alkaline" class="nd G s"><rect x="2241" y="1671" width="415" height="58"/><text x="2448" y="1700" font-size="32" textLength="356">alkaline pretreatment</text></g>

<g id="n-angiotensin" class="nd Y"><rect x="1941" y="13" width="576" height="59"/><text x="2229" y="43" font-size="32" textLength="514">angiotensin receptor antagonis</text></g>
<g id="n-arb" class="nd Y"><rect x="1705" y="104" width="516" height="57"/><text x="1963" y="133" font-size="31" textLength="456">antibiotic resistant bacteria</text></g>
<g id="n-microplastics" class="nd Y"><rect x="2181" y="129" width="280" height="60"/><text x="2321" y="159" font-size="32" textLength="220">microplastics</text></g>
<g id="n-arg" class="nd Y"><rect x="1770" y="199" width="486" height="60"/><text x="2013" y="229" font-size="32" textLength="428">antibiotic resistance gene</text></g>
<g id="n-prevalence" class="nd Y"><rect x="1123" y="224" width="240" height="58"/><text x="1243" y="253" font-size="31" textLength="182">prevalence</text></g>
<g id="n-infusions" class="nd B"><rect x="441" y="292" width="384" height="54"/><text x="633" y="319" font-size="29" textLength="324">infusions, intravenous</text></g>
<g id="n-oxazolidinones" class="nd G"><rect x="821" y="270" width="280" height="52"/><text x="961" y="296" font-size="28" textLength="220">oxazolidinones</text></g>
<g id="n-doxycycline" class="nd G"><rect x="996" y="318" width="246" height="58"/><text x="1119" y="347" font-size="31" textLength="186">doxycycline</text></g>
<g id="n-farms" class="nd Y"><rect x="1669" y="302" width="153" height="57"/><text x="1745" y="331" font-size="31" textLength="94">farms</text></g>
<g id="n-antibiotic-resistance" class="nd Y"><rect x="1321" y="330" width="395" height="60"/><text x="1518" y="360" font-size="32" textLength="335">antibiotic resistance</text></g>
<g id="n-drug-resistance-microbial" class="nd Y"><rect x="1827" y="304" width="631" height="76"/><text x="2142" y="342" font-size="43" textLength="567">drug resistance, microbial</text></g>
<g id="n-tetracycline" class="nd YG"><rect x="1509" y="392" width="274" height="63"/><text x="1646" y="424" font-size="34" textLength="212">tetracycline</text></g>
<g id="n-sulfamethoxazole" class="nd YL"><rect x="1867" y="382" width="360" height="59"/><text x="2047" y="412" font-size="32" textLength="300">sulfamethoxazole</text></g>
<g id="n-malondialdehyde" class="nd T"><rect x="495" y="464" width="345" height="60"/><text x="667" y="494" font-size="33" textLength="285">malondialdehyde</text></g>
<g id="n-ros" class="nd YG"><rect x="874" y="459" width="457" height="61"/><text x="1102" y="490" font-size="33" textLength="398">reactive oxygen species</text></g>
<g id="n-ribotyping" class="nd G"><rect x="174" y="529" width="210" height="53"/><text x="279" y="556" font-size="30" textLength="152">ribotyping</text></g>
<g id="n-drug-resistance-bacterial" class="nd G"><rect x="1022" y="529" width="538" height="67"/><text x="1291" y="563" font-size="37" textLength="478">drug resistance, bacterial</text></g>
<g id="n-triclosan" class="nd YG"><rect x="1592" y="548" width="200" height="59"/><text x="1696" y="578" font-size="32" textLength="160">triclosan</text></g>
<g id="n-antibiotics" class="nd Y"><rect x="1731" y="509" width="253" height="67"/><text x="1857" y="543" font-size="37" textLength="193">antibiotics</text></g>
<g id="n-soil" class="nd YG"><rect x="2072" y="551" width="133" height="71"/><text x="2138" y="587" font-size="40" textLength="73">soil</text></g>
<g id="n-biofertilizer" class="nd Y"><rect x="2314" y="504" width="248" height="57"/><text x="2438" y="533" font-size="31" textLength="190">biofertilizer</text></g>
<g id="n-digestate" class="nd Y"><rect x="2227" y="590" width="209" height="60"/><text x="2331" y="620" font-size="33" textLength="150">digestate</text></g>
<g id="n-clindamycin" class="nd T"><rect x="503" y="575" width="258" height="52"/><text x="632" y="601" font-size="30" textLength="198">clindamycin</text></g>
<g id="n-child" class="nd T"><rect x="208" y="644" width="319" height="59"/><text x="367" y="674" font-size="33" textLength="259">child, preschool</text></g>
<g id="n-treatment-outcome" class="nd GT"><rect x="469" y="624" width="386" height="62"/><text x="662" y="655" font-size="34" textLength="326">treatment outcome</text></g>
<g id="n-liver" class="nd GT"><rect x="812" y="567" width="148" height="74"/><text x="886" y="604" font-size="40" textLength="86">liver</text></g>
<g id="n-china" class="nd YG"><rect x="1633" y="671" width="150" height="60"/><text x="1708" y="701" font-size="31" textLength="88">china</text></g>
<g id="n-anti-bacterial" class="nd YG"><rect x="1091" y="604" width="565" height="80"/><text x="1373" y="644" font-size="44" textLength="505">anti-bacterial agents</text></g>
<g id="n-hydrothermal" class="nd Y"><rect x="2511" y="641" width="456" height="59"/><text x="2739" y="671" font-size="32" textLength="396">hydrothermal treatment</text></g>
<g id="n-heavy-metals" class="nd Y"><rect x="2250" y="651" width="299" height="63"/><text x="2400" y="683" font-size="35" textLength="237">heavy metals</text></g>
<g id="n-manure" class="nd YG"><rect x="1900" y="667" width="237" height="77"/><text x="2018" y="706" font-size="42" textLength="177">manure</text></g>
<g id="n-vancomycin" class="nd GT"><rect x="840" y="714" width="263" height="59"/><text x="971" y="744" font-size="33" textLength="203">vancomycin</text></g>
<g id="n-metronidazole" class="nd T s"><rect x="582" y="741" width="303" height="57"/><text x="734" y="770" font-size="33" textLength="245">metronidazole</text></g>
<g id="n-young-adult" class="nd G"><rect x="377" y="704" width="281" height="65"/><text x="517" y="737" font-size="36" textLength="221">young adult</text></g>
<g id="n-sulfur" class="nd GT"><rect x="1336" y="729" width="156" height="59"/><text x="1414" y="759" font-size="33" textLength="96">sulfur</text></g>
<g id="n-swine" class="nd YG"><rect x="1598" y="745" width="186" height="73"/><text x="1691" y="782" font-size="39" textLength="126">swine</text></g>
<g id="n-phenol" class="nd G"><rect x="1874" y="753" width="187" height="63"/><text x="1967" y="785" font-size="34" textLength="127">phenol</text></g>
<g id="n-sewage" class="nd YG"><rect x="2065" y="757" width="258" height="88"/><text x="2194" y="801" font-size="47" textLength="198">sewage</text></g>
<g id="n-charcoal" class="nd Y"><rect x="2382" y="768" width="217" height="67"/><text x="2490" y="802" font-size="37" textLength="157">charcoal</text></g>
<g id="n-adult" class="nd T"><rect x="535" y="821" width="154" height="66"/><text x="612" y="855" font-size="37" textLength="94">adult</text></g>
<g id="n-oxidation-reduction" class="nd GT"><rect x="1306" y="816" width="466" height="70"/><text x="1539" y="852" font-size="39" textLength="406">oxidation-reduction</text></g>
<g id="n-tongue" class="nd TB"><rect x="894" y="890" width="173" height="58"/><text x="980" y="920" font-size="31" textLength="113">tongue</text></g>
<g id="n-animals" class="nd G"><rect x="1063" y="839" width="271" height="88"/><text x="1198" y="884" font-size="48" textLength="207">animals</text></g>
<g id="n-male" class="nd T"><rect x="577" y="900" width="172" height="76"/><text x="663" y="939" font-size="42" textLength="110">male</text></g>
<g id="n-humans" class="nd GT"><rect x="706" y="941" width="266" height="84"/><text x="839" y="984" font-size="46" textLength="204">humans</text></g>
<g id="n-activated-carbon" class="nd Y"><rect x="2455" y="878" width="331" height="59"/><text x="2620" y="908" font-size="32" textLength="274">activated carbon</text></g>
<g id="n-anaerobic-digestion" class="nd Y"><rect x="1892" y="859" width="581" height="84"/><text x="2182" y="902" font-size="46" textLength="517">anaerobic digestion</text></g>
<g id="n-kinetics" class="nd T"><rect x="1590" y="912" width="202" height="66"/><text x="1688" y="946" font-size="35" textLength="143">kinetics</text></g>
<g id="n-anaerobiosis" class="nd YG"><rect x="1777" y="937" width="423" height="95"/><text x="1988" y="985" font-size="52" textLength="361">anaerobiosis</text></g>
<g id="n-direct-interspecies" class="nd Y"><rect x="2335" y="990" width="535" height="58"/><text x="2603" y="1020" font-size="32" textLength="470">direct interspecies electron t</text></g>
<g id="n-iron" class="nd YL"><rect x="2212" y="973" width="150" height="78"/><text x="2287" y="1012" font-size="42" textLength="88">iron</text></g>
<g id="n-microbiota" class="nd Y"><rect x="1209" y="949" width="298" height="75"/><text x="1356" y="987" font-size="40" textLength="236">microbiota</text></g>
<g id="n-ileum" class="nd T"><rect x="174" y="996" width="153" height="61"/><text x="250" y="1027" font-size="33" textLength="93">ileum</text></g>
<g id="n-intestine-small" class="nd GT"><rect x="343" y="976" width="340" height="66"/><text x="513" y="1010" font-size="36" textLength="278">intestine, small</text></g>
<g id="n-infant" class="nd T"><rect x="191" y="1055" width="157" height="61"/><text x="269" y="1086" font-size="33" textLength="97">infant</text></g>
<g id="n-phenols" class="nd G"><rect x="1519" y="1000" width="210" height="63"/><text x="1624" y="1032" font-size="34" textLength="150">phenols</text></g>
<g id="n-bacteria" class="nd G"><rect x="1266" y="1043" width="255" height="84"/><text x="1392" y="1086" font-size="46" textLength="193">bacteria</text></g>
<g id="n-intestines" class="nd GT"><rect x="626" y="1065" width="276" height="76"/><text x="764" y="1104" font-size="42" textLength="212">intestines</text></g>
<g id="n-colitis" class="nd YG"><rect x="380" y="1129" width="156" height="61"/><text x="458" y="1160" font-size="33" textLength="96">colitis</text></g>
<g id="n-metagenome" class="nd G"><rect x="922" y="1100" width="308" height="64"/><text x="1076" y="1133" font-size="35" textLength="245">metagenome</text></g>
<g id="n-temperature" class="nd G"><rect x="1743" y="1085" width="316" height="72"/><text x="1900" y="1122" font-size="39" textLength="256">temperature</text></g>
<g id="n-refuse-disposal" class="nd YG"><rect x="2246" y="1135" width="375" height="73"/><text x="2433" y="1172" font-size="40" textLength="313">refuse disposal</text></g>
<g id="n-infant-newborn" class="nd T"><rect x="13" y="1198" width="323" height="57"/><text x="174" y="1227" font-size="32" textLength="262">infant, newborn</text></g>
<g id="n-feces" class="nd GT"><rect x="783" y="1175" width="168" height="74"/><text x="867" y="1213" font-size="40" textLength="108">feces</text></g>
<g id="n-triticum" class="nd G"><rect x="1830" y="1230" width="191" height="60"/><text x="1925" y="1261" font-size="33" textLength="131">triticum</text></g>
<g id="n-hydrogen-ion" class="nd GT"><rect x="1186" y="1186" width="692" height="78"/><text x="1532" y="1226" font-size="43" textLength="628">hydrogen-ion concentration</text></g>
<g id="n-methane" class="nd YG"><rect x="1995" y="1176" width="293" height="87"/><text x="2141" y="1220" font-size="47" textLength="232">methane</text></g>
<g id="n-zero-valent-iron" class="nd Y"><rect x="2604" y="1195" width="326" height="61"/><text x="2766" y="1226" font-size="33" textLength="264">zero-valent iron</text></g>
<g id="n-breast-feeding" class="nd T"><rect x="47" y="1263" width="264" height="55"/><text x="178" y="1291" font-size="29" textLength="206">breast feeding</text></g>
<g id="n-probiotics" class="nd GT"><rect x="483" y="1259" width="249" height="68"/><text x="607" y="1293" font-size="37" textLength="188">probiotics</text></g>
<g id="n-diet" class="nd YG"><rect x="1000" y="1312" width="126" height="60"/><text x="1060" y="1343" font-size="34" textLength="69">diet</text></g>
<g id="n-nitrites" class="nd T"><rect x="1255" y="1301" width="178" height="58"/><text x="1344" y="1331" font-size="32" textLength="118">nitrites</text></g>
<g id="n-acids" class="nd T"><rect x="1529" y="1299" width="144" height="59"/><text x="1601" y="1329" font-size="32" textLength="84">acids</text></g>
<g id="n-methane-yield" class="nd Y"><rect x="2367" y="1293" width="300" height="61"/><text x="2517" y="1324" font-size="33" textLength="240">methane yield</text></g>
<g id="n-thermophilic" class="nd YL"><rect x="2510" y="1350" width="270" height="58"/><text x="2645" y="1380" font-size="32" textLength="208">thermophilic</text></g>
<g id="n-lactulose" class="nd GT"><rect x="323" y="1333" width="189" height="55"/><text x="417" y="1361" font-size="30" textLength="127">lactulose</text></g>
<g id="n-oligosaccharides" class="nd T"><rect x="482" y="1378" width="337" height="58"/><text x="650" y="1408" font-size="32" textLength="278">oligosaccharides</text></g>
<g id="n-ammonia" class="nd G"><rect x="1815" y="1339" width="256" height="69"/><text x="1942" y="1374" font-size="37" textLength="197">ammonia</text></g>
<g id="n-fatty-acids" class="nd G"><rect x="1372" y="1383" width="468" height="74"/><text x="1606" y="1421" font-size="41" textLength="406">fatty acids, volatile</text></g>
<g id="n-waste-products" class="nd GT"><rect x="2056" y="1370" width="345" height="65"/><text x="2228" y="1403" font-size="35" textLength="287">waste products</text></g>
<g id="n-phylogeny" class="nd G"><rect x="1049" y="1412" width="258" height="68"/><text x="1176" y="1447" font-size="37" textLength="196">phylogeny</text></g>
<g id="n-saccharum" class="nd G"><rect x="2144" y="1437" width="243" height="58"/><text x="2265" y="1467" font-size="32" textLength="183">saccharum</text></g>
<g id="n-fermentation" class="nd G"><rect x="1331" y="1453" width="360" height="78"/><text x="1511" y="1493" font-size="43" textLength="296">fermentation</text></g>
<g id="n-zea-mays" class="nd GT"><rect x="1956" y="1448" width="239" height="69"/><text x="2075" y="1483" font-size="36" textLength="177">zea mays</text></g>
<g id="n-mannans" class="nd B"><rect x="296" y="1480" width="197" height="55"/><text x="394" y="1508" font-size="30" textLength="137">mannans</text></g>
<g id="n-inulin" class="nd T"><rect x="618" y="1480" width="155" height="59"/><text x="695" y="1510" font-size="32" textLength="95">inulin</text></g>
<g id="n-biotechnology" class="nd T"><rect x="1842" y="1517" width="328" height="69"/><text x="2005" y="1552" font-size="37" textLength="267">biotechnology</text></g>
<g id="n-malus" class="nd YG"><rect x="703" y="1559" width="146" height="53"/><text x="775" y="1586" font-size="29" textLength="86">malus</text></g>
<g id="n-molecular-sequence-data" class="nd T"><rect x="904" y="1542" width="528" height="65"/><text x="1167" y="1575" font-size="35" textLength="467">molecular sequence data</text></g>
<g id="n-defecation" class="nd B"><rect x="341" y="1567" width="213" height="55"/><text x="447" y="1595" font-size="30" textLength="153">defecation</text></g>
<g id="n-sequence-analysis" class="nd GT"><rect x="965" y="1610" width="497" height="66"/><text x="1213" y="1644" font-size="36" textLength="434">sequence analysis, dna</text></g>
<g id="n-dna-archaeal" class="nd G"><rect x="1501" y="1626" width="283" height="58"/><text x="1642" y="1656" font-size="32" textLength="223">dna, archaeal</text></g>
<g id="n-bioethanol" class="nd YL"><rect x="1821" y="1631" width="237" height="57"/><text x="1939" y="1660" font-size="31" textLength="175">bioethanol</text></g>
<g id="n-zeolites" class="nd G"><rect x="2169" y="1620" width="183" height="58"/><text x="2260" y="1650" font-size="32" textLength="123">zeolites</text></g>
<g id="n-rna-archaeal" class="nd T"><rect x="1582" y="1720" width="244" height="53"/><text x="1703" y="1747" font-size="30" textLength="184">rna, archaeal</text></g>
<g id="n-acidogenesis" class="nd YL"><rect x="1882" y="1703" width="271" height="58"/><text x="2016" y="1733" font-size="32" textLength="211">acidogenesis</text></g>
<g id="n-dna-ribosomal" class="nd T"><rect x="1019" y="1718" width="340" height="66"/><text x="1188" y="1752" font-size="36" textLength="278">dna, ribosomal</text></g>
<g id="n-silage" class="nd G"><rect x="1806" y="1774" width="152" height="60"/><text x="1882" y="1805" font-size="33" textLength="92">silage</text></g>
<g id="n-sequence-homology" class="nd B"><rect x="877" y="1833" width="519" height="54"/><text x="1137" y="1861" font-size="29" textLength="459">sequence homology, nucleic aci</text></g>
</g>
<g id="legend">
<rect x="2398" y="1890" width="892" height="136" rx="22" fill="#ffffff" stroke="#d4d4d4" stroke-width="3"/>
<rect x="2423" y="1911" width="839" height="49" fill="url(#lg)" stroke="#555" stroke-width="2"/>
<g stroke="#555" stroke-width="2"><line x1="2513" y1="1942" x2="2513" y2="1976"/><line x1="2746" y1="1942" x2="2746" y2="1976"/><line x1="2985" y1="1942" x2="2985" y2="1976"/><line x1="3219" y1="1942" x2="3219" y2="1976"/></g>
<text class="lgt" x="2513" y="2012">2005</text><text class="lgt" x="2746" y="2012">2010</text><text class="lgt" x="2985" y="2012">2015</text><text class="lgt" x="3219" y="2012">2020</text>
</g>
</svg>
